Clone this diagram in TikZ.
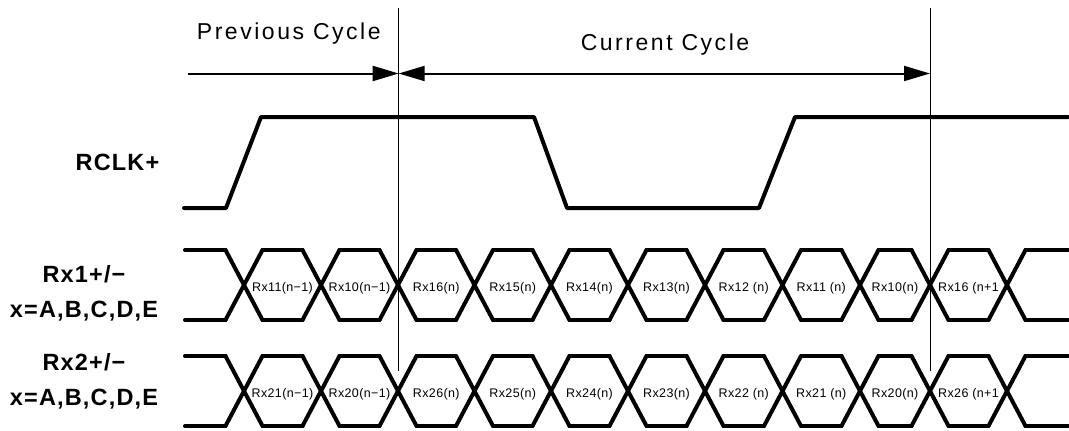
\documentclass[tikz,border=0pt]{standalone}
\usepackage{fontspec}
\setmainfont{Liberation Sans}
\newfontfamily\topfont[LetterSpace=11]{Liberation Sans}
\newfontfamily\labfont[LetterSpace=5]{Liberation Sans}
\newfontfamily\cellfont[LetterSpace=3]{Liberation Sans}
\usetikzlibrary{arrows.meta}
\tikzset{
  sig/.style={line width=4pt, line cap=round, line join=round},
  bus/.style={line width=4pt, line cap=round, line join=round},
  marker/.style={line width=1pt},
  span/.style={line width=2pt, arrows={-Triangle[length=26pt,width=15pt]}},
  spanboth/.style={line width=2pt, arrows={Triangle[length=26pt,width=15pt]-Triangle[length=26pt,width=15pt]}},
  toptext/.style={anchor=base, inner sep=0pt, font=\topfont\fontsize{23}{23}\selectfont},
  sidelabel/.style={anchor=base, inner sep=0pt, font=\labfont\bfseries\fontsize{23.5}{23.5}\selectfont},
  cell/.style={anchor=base, inner sep=0pt, font=\cellfont\fontsize{12.5}{12.5}\selectfont},
}
\newcommand\busrow[2]{%
  \draw[bus] (185,#1) -- (225.5,#1) (185,#2) -- (225.5,#2);
  \foreach \c in {244,321,398,474.5,551,628,705,782.5,860,930,1007} {
    \draw[bus] (\c-18.5,#1) -- (\c+18.5,#2) (\c-18.5,#2) -- (\c+18.5,#1);
  }
  \foreach \a/\b in {244/321,321/398,398/474.5,474.5/551,551/628,628/705,705/782.5,782.5/860,860/930,930/1007} {
    \draw[bus] (\a+18.5,#1) -- (\b-18.5,#1) (\a+18.5,#2) -- (\b-18.5,#2);
  }
  \draw[bus] (1025.5,#1) -- (1068,#1) (1025.5,#2) -- (1068,#2);
}
\begin{document}
\begin{tikzpicture}[x=1pt,y=-1pt]
\fill[white] (0,0) rectangle (1069,431);
\useasboundingbox (0,0) rectangle (1069,431);

% cycle boundaries
\coordinate (v1t) at (398.7,8);
\coordinate (v1b) at (398.7,371);
\coordinate (v2t) at (930,8);
\coordinate (v2b) at (930,371);
\draw[marker] (v1t) -- (v1b);
\draw[marker] (v2t) -- (v2b);

% cycle arrows
\coordinate (pstart) at (188,73.5);
\coordinate (pend) at (398.7,73.5);
\coordinate (cend) at (930,73.5);
\draw[span] (pstart) -- (pend);
\draw[spanboth] (pend) -- (cend);
\node[toptext] (prev) at (288.8,39.3) {Previous Cycle};
\node[toptext] (curr) at (665,50.7) {Current Cycle};

% RCLK
\node[sidelabel] (rclk) at (117.5,170) {RCLK+};
\draw[sig] (184,208) -- (226,208) -- (261,117) -- (534,117) -- (567,208) -- (759,208) -- (795,117) -- (1068,117);

% Rx1 bus
\node[sidelabel] (rx1a) at (84,282.3) {Rx1+/−};
\node[sidelabel] (rx1b) at (84,317.7) {x=A,B,C,D,E};
\busrow{250}{320}
\foreach \x/\t [count=\i] in {282.5/Rx11(n−1), 359.5/Rx10(n−1), 436.25/Rx16(n), 512.75/Rx15(n), 589.5/Rx14(n), 666.5/Rx13(n), 743.75/Rx12 (n), 821.25/Rx11 (n), 895/Rx10(n), 968.5/Rx16 (n+1}
  \node[cell] (a\i) at (\x,291) {\t};

% Rx2 bus
\node[sidelabel] (rx2a) at (84,370) {Rx2+/−};
\node[sidelabel] (rx2b) at (84,405) {x=A,B,C,D,E};
\busrow{356}{426}
\foreach \x/\t [count=\i] in {282.5/Rx21(n−1), 359.5/Rx20(n−1), 436.25/Rx26(n), 512.75/Rx25(n), 589.5/Rx24(n), 666.5/Rx23(n), 743.75/Rx22 (n), 821.25/Rx21 (n), 895/Rx20(n), 968.5/Rx26 (n+1}
  \node[cell] (b\i) at (\x,397) {\t};
\end{tikzpicture}
\end{document}
